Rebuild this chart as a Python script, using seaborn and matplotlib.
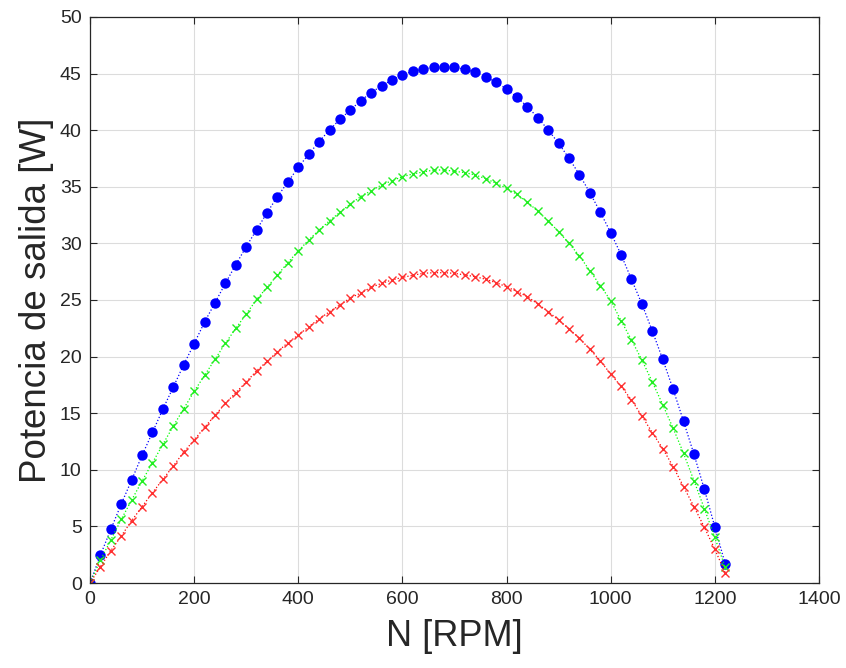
import numpy as np
import pandas as pd
import matplotlib
matplotlib.use("Agg")
import matplotlib.pyplot as plt
import seaborn as sns

rpm = list(range(0, 1221, 20))

potencia_azul = [0, 2.47, 4.74, 6.98, 9.10, 11.28, 13.31, 15.37, 17.31, 19.29,
                 21.14, 23.05, 24.75, 26.47, 28.12, 29.71, 31.20, 32.71, 34.13, 35.42,
                 36.72, 37.87, 38.99, 40.02, 40.96, 41.78, 42.61, 43.31, 43.93, 44.43,
                 44.88, 45.20, 45.41, 45.56, 45.61, 45.56, 45.38, 45.11, 44.73, 44.23,
                 43.64, 42.91, 42.08, 41.11, 40.02, 38.84, 37.52, 36.07, 34.48, 32.77,
                 30.95, 29.00, 26.82, 24.65, 22.26, 19.76, 17.11, 14.28, 11.37, 8.27,
                 4.97, 1.68]

potencia_verde = [0, 2.03, 3.80, 5.62, 7.33, 9.01, 10.63, 12.25, 13.87, 15.40,
                  16.93, 18.34, 19.76, 21.17, 22.50, 23.76, 25.05, 26.12, 27.21, 28.30,
                  29.33, 30.30, 31.18, 32.00, 32.75, 33.48, 34.13, 34.66, 35.16, 35.54,
                  35.89, 36.13, 36.31, 36.48, 36.48, 36.37, 36.25, 36.04, 35.72, 35.31,
                  34.87, 34.33, 33.66, 32.83, 32.00, 31.03, 30.01, 28.89, 27.59, 26.28,
                  24.95, 23.17, 21.47, 19.70, 17.76, 15.75, 13.67, 11.46, 9.04, 6.57,
                  4.03, 1.38]

potencia_roja = [0, 1.44, 2.86, 4.15, 5.51, 6.74, 7.98, 9.16, 10.34, 11.57,
                 12.63, 13.75, 14.81, 15.87, 16.81, 17.76, 18.75, 19.58, 20.43, 21.23,
                 21.90, 22.64, 23.32, 23.97, 24.56, 25.18, 25.62, 26.12, 26.47, 26.77,
                 27.00, 27.18, 27.36, 27.41, 27.41, 27.36, 27.21, 27.06, 26.83, 26.53,
                 26.17, 25.75, 25.30, 24.65, 23.97, 23.23, 22.44, 21.62, 20.64, 19.64,
                 18.46, 17.37, 16.17, 14.75, 13.28, 11.87, 10.28, 8.51, 6.74, 4.92,
                 2.98, 0.91]

sns.set_style("ticks")
plt.rcParams['font.family'] = ['Liberation Sans', 'DejaVu Sans']

fig = plt.figure(figsize=(8.46, 6.68), dpi=100)
ax = fig.add_axes([0.1064, 0.1272, 0.8616, 0.8474])

datos = pd.DataFrame({"N": rpm, "azul": potencia_azul,
                      "verde": potencia_verde, "roja": potencia_roja})

sns.lineplot(data=datos, x="N", y="azul", ax=ax, color="#0000ff", linestyle=":",
             linewidth=0.9, marker="o", markersize=7.5, markeredgewidth=0,
             markeredgecolor="#0000ff", estimator=None, sort=False)
sns.lineplot(data=datos, x="N", y="verde", ax=ax, color="#00ff00", linestyle=":",
             linewidth=0.9, marker="x", markersize=6, markeredgewidth=1.0,
             markeredgecolor="#22ee22", estimator=None, sort=False)
sns.lineplot(data=datos, x="N", y="roja", ax=ax, color="#ff0000", linestyle=":",
             linewidth=0.9, marker="x", markersize=6, markeredgewidth=1.0,
             markeredgecolor="#ff3030", estimator=None, sort=False)

ax.set_xlim(0, 1400)
ax.set_ylim(0, 50)
ax.set_xticks(range(0, 1401, 200))
ax.set_yticks(range(0, 51, 5))
ax.grid(True, color="#dcdcdc", linewidth=0.8)
ax.set_axisbelow(True)
ax.tick_params(direction="in", top=True, right=True, length=5, width=0.8,
               labelsize=14, colors="#262626", pad=6)
for s in ax.spines.values():
    s.set_visible(True)
    s.set_color("#262626")
    s.set_linewidth(0.9)

ax.set_xlabel("N [RPM]", fontsize=26, color="#262626", labelpad=8)
ax.set_ylabel("Potencia de salida [W]", fontsize=26.5, color="#262626", labelpad=4)

fig.savefig("out.png", dpi=100)
